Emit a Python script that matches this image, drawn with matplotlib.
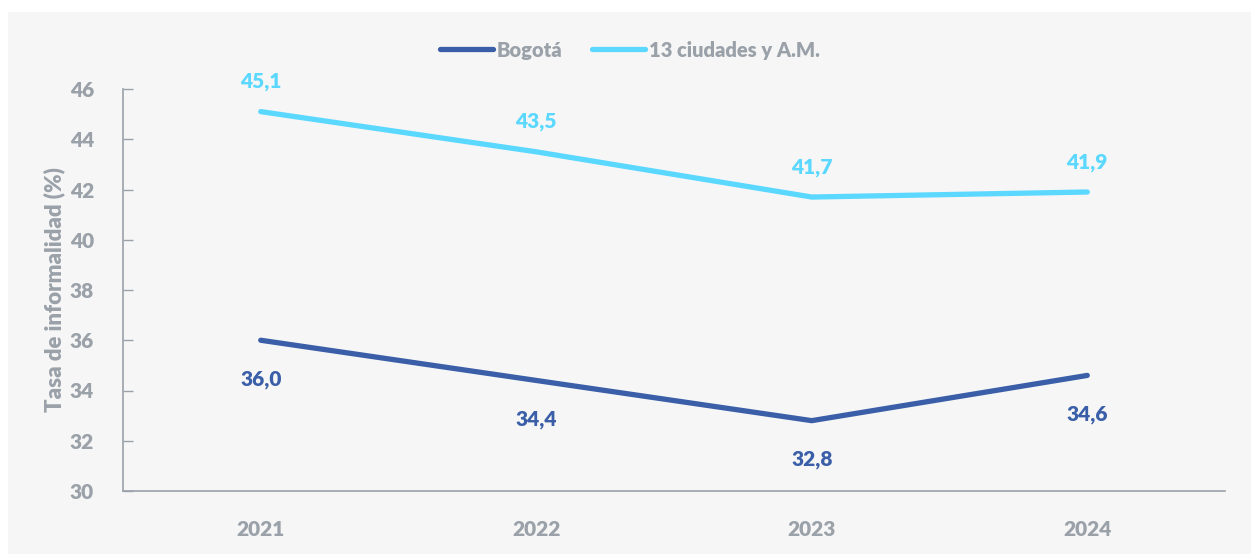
import matplotlib.pyplot as plt
from matplotlib.patches import Rectangle

years = ['2021', '2022', '2023', '2024']
bogota = [36.0, 34.4, 32.8, 34.6]
ciudades = [45.1, 43.5, 41.7, 41.9]
bogota_labels = ['36,0', '34,4', '32,8', '34,6']
ciudades_labels = ['45,1', '43,5', '41,7', '41,9']
yticks = [30, 32, 34, 36, 38, 40, 42, 44, 46]

W = 'heavy'
plt.rcParams['font.family'] = ['Lato', 'DejaVu Sans']
gray = '#9aa1a9'
dark = '#3a5ea8'
light = '#5bd8ff'

fig = plt.figure(figsize=(12.51, 5.54), dpi=100)
fig.patch.set_facecolor('white')
fig.patches.append(Rectangle((8 / 1251, 0), 1, 1 - 12 / 554, transform=fig.transFigure,
                             facecolor='#f6f6f6', edgecolor='none', zorder=-5))

ax = fig.add_axes([123 / 1251, 1 - 491 / 554, (1225 - 123) / 1251, (491 - 89) / 554])
ax.set_facecolor('none')
ax.set_zorder(2)

x = list(range(len(years)))
ax.plot(x, bogota, color=dark, lw=3.8, solid_capstyle='round', solid_joinstyle='miter', label='Bogotá')
ax.plot(x, ciudades, color=light, lw=3.8, solid_capstyle='round', solid_joinstyle='miter', label='13 ciudades y A.M.')

for xi, v, t in zip(x, bogota, bogota_labels):
    ax.annotate(t, (xi, v), xytext=(0, -39), textcoords='offset pixels', ha='center', va='center',
                color=dark, fontsize=15, fontweight=W)
for xi, v, t in zip(x, ciudades, ciudades_labels):
    ax.annotate(t, (xi, v), xytext=(0, 30), textcoords='offset pixels', ha='center', va='center',
                color=light, fontsize=15, fontweight=W)

ax.set_xlim(-0.5, 3.5)
ax.set_ylim(30, 46)
ax.set_xticks(x)
ax.set_xticklabels(years)
ax.set_yticks(yticks)
ax.tick_params(axis='y', direction='in', length=7, width=1, color=gray, labelcolor=gray,
               labelsize=15, pad=21)
ax.tick_params(axis='x', length=0, labelcolor=gray, labelsize=15, pad=21)
for lbl in ax.get_xticklabels() + ax.get_yticklabels():
    lbl.set_fontweight(W)

for s in ['top', 'right']:
    ax.spines[s].set_visible(False)
ax.spines['left'].set_color(gray)
ax.spines['bottom'].set_color(gray)
ax.spines['left'].set_linewidth(1.2)
ax.spines['bottom'].set_linewidth(1.2)

ax.set_ylabel('Tasa de informalidad (%)', color=gray, fontsize=16, fontweight=W, labelpad=3)

leg = fig.legend(loc='center', bbox_to_anchor=(630 / 1251, 1 - 50 / 554), ncol=2, frameon=False,
                 handlelength=2.6, handletextpad=0.2, columnspacing=1.5,
                 prop={'size': 14.5, 'weight': W})
for t in leg.get_texts():
    t.set_color(gray)

fig.savefig('out.png', dpi=100)
